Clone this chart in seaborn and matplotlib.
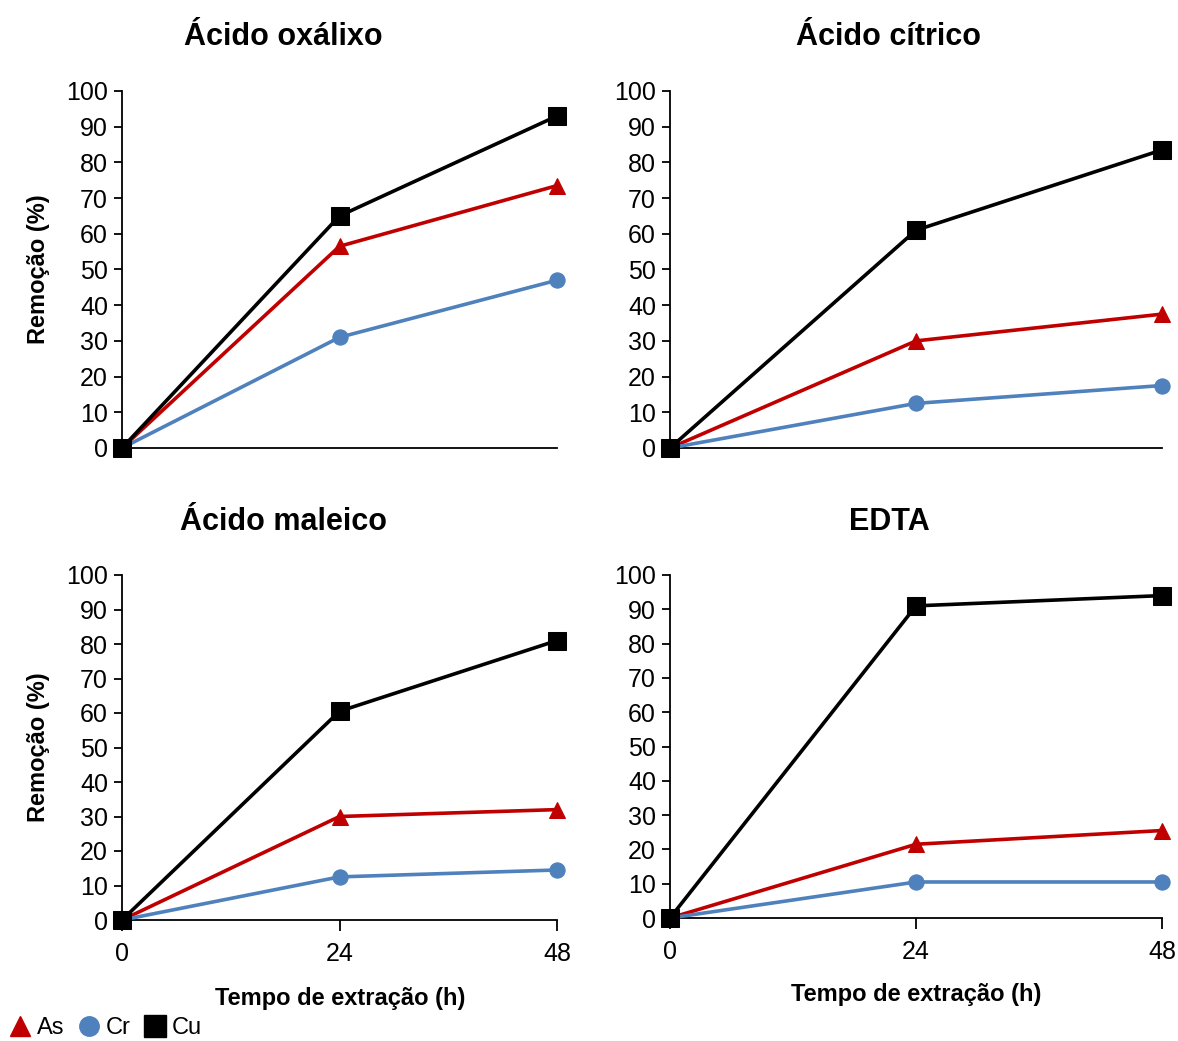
import pandas as pd
import seaborn as sns
import matplotlib.pyplot as plt
from matplotlib.lines import Line2D

# data
tempo = [0, 24, 48]
elementos = ['As', 'Cr', 'Cu']

oxalico_as = [0, 56.5, 73.5]
oxalico_cr = [0, 31, 47]
oxalico_cu = [0, 65, 93]

citrico_as = [0, 30, 37.5]
citrico_cr = [0, 12.5, 17.5]
citrico_cu = [0, 61, 83.5]

maleico_as = [0, 30, 32]
maleico_cr = [0, 12.5, 14.5]
maleico_cu = [0, 60.5, 81]

edta_as = [0, 21.5, 25.5]
edta_cr = [0, 10.5, 10.5]
edta_cu = [0, 91, 94]

config = {
    'colors': {'As': '#C00000', 'Cr': '#4F81BD', 'Cu': '#000000'},
    'markers': {'As': '^', 'Cr': 'o', 'Cu': 's'},
    'msize': {'As': 12, 'Cr': 11, 'Cu': 13},
    'tick_fs': 18,
    'title_fs': 22,
    'label_fs': 17,
}

sns.set_style('white')
plt.rcParams['font.family'] = ['Liberation Sans Narrow', 'Liberation Sans', 'DejaVu Sans']
plt.rcParams.update({'text.color': 'black', 'axes.labelcolor': 'black',
                     'xtick.color': 'black', 'ytick.color': 'black'})

W, H = 1178, 1041
fig = plt.figure(figsize=(W / 100, H / 100), dpi=100)


def box(x0, x1, y_top, y_bottom):
    return [x0 / W, 1 - y_bottom / H, (x1 - x0) / W, (y_bottom - y_top) / H]


panels = [
    ('Ácido oxálixo', [oxalico_as, oxalico_cr, oxalico_cu], box(122, 557, 91, 448), False, True, (283, 37)),
    ('Ácido cítrico', [citrico_as, citrico_cr, citrico_cu], box(670, 1162, 91, 448), False, False, (889, 37)),
    ('Ácido maleico', [maleico_as, maleico_cr, maleico_cu], box(122, 557, 575, 920), True, True, (284, 522)),
    ('EDTA', [edta_as, edta_cr, edta_cu], box(670, 1162, 575, 918), True, False, (889, 522)),
]

for title, series, rect, show_x, show_y, tpos in panels:
    ax = fig.add_axes(rect)
    df = pd.DataFrame({'Tempo': tempo * 3,
                       'Remocao': series[0] + series[1] + series[2],
                       'Elemento': [e for e in elementos for _ in tempo]})
    for el in elementos:
        sub = df[df['Elemento'] == el]
        sns.lineplot(data=sub, x='Tempo', y='Remocao', ax=ax, color=config['colors'][el],
                     marker=config['markers'][el], markersize=config['msize'][el],
                     markeredgecolor=config['colors'][el], linewidth=2.6, clip_on=False, zorder=3)
    ax.set_xlim(0, 48)
    ax.set_ylim(0, 100)
    ax.set_yticks(range(0, 101, 10))
    ax.set_xticks(tempo)
    for side in ['top', 'right']:
        ax.spines[side].set_visible(False)
    for side in ['left', 'bottom']:
        ax.spines[side].set_color('black')
        ax.spines[side].set_linewidth(1.3)
    ax.tick_params(axis='y', direction='out', length=6, width=1.3, color='black',
                   labelsize=config['tick_fs'], pad=4, left=True)
    if show_x:
        ax.tick_params(axis='x', direction='out', length=8, width=1.3, color='black',
                       labelsize=config['tick_fs'], pad=8, bottom=True)
    else:
        ax.tick_params(axis='x', bottom=False, labelbottom=False)
    ax.set_xlabel('')
    ax.set_ylabel('')
    fig.text(tpos[0] / W, 1 - tpos[1] / H, title, ha='center', va='center',
             fontsize=config['title_fs'], fontweight='bold')
    if show_y:
        ax.set_ylabel('Remoção (%)', fontsize=config['label_fs'], fontweight='bold', labelpad=12)

fig.text(340 / W, 1 - 998 / H, 'Tempo de extração (h)', ha='center', va='center',
         fontsize=config['label_fs'], fontweight='bold')
fig.text(916 / W, 1 - 995 / H, 'Tempo de extração (h)', ha='center', va='center',
         fontsize=config['label_fs'], fontweight='bold')

handles = [Line2D([], [], linestyle='none', marker=config['markers'][el], color=config['colors'][el],
                  markersize=config['msize'][el] + 3) for el in elementos]
fig.legend(handles, elementos, loc='lower left', bbox_to_anchor=(-0.004, -0.012), ncol=3, frameon=False,
           fontsize=17, handlelength=0.9, handletextpad=0.25, columnspacing=0.6, borderaxespad=0.2)

fig.savefig('out.png', dpi=100)
